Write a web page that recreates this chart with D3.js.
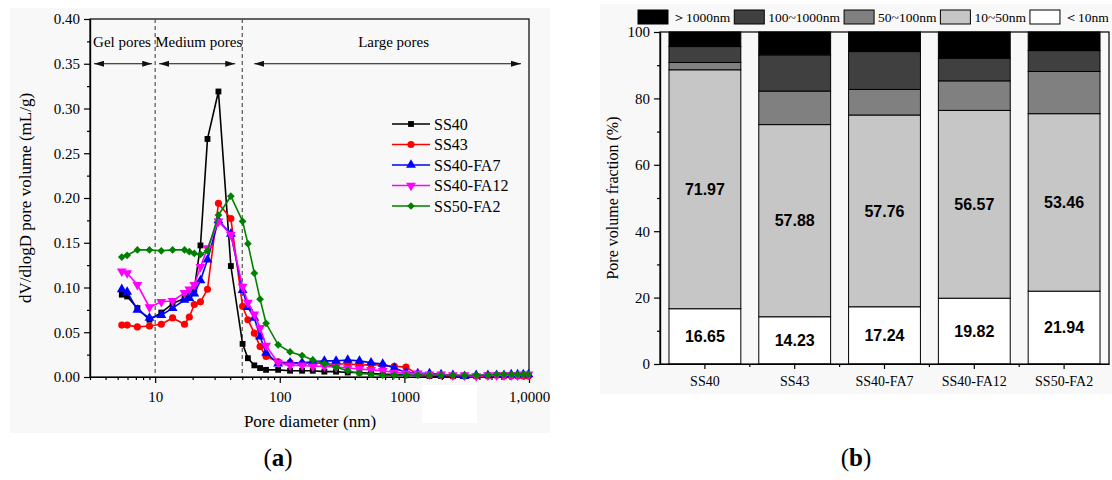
<!DOCTYPE html>
<html>
<head>
<meta charset="utf-8">
<script src="https://cdn.jsdelivr.net/npm/d3@7"></script>
<style>
  body { margin: 0; background: #ffffff; }
  svg { display: block; }
</style>
</head>
<body>
<svg id="chart" width="1112" height="480"></svg>
<script>
// ---------- (a) pore size distribution ----------
const diameters = [5.4, 5.96, 7.2, 9.0, 11.2, 13.8, 17.2, 18.8, 20.6, 23.1, 26.3, 32.2, 40.5,
  50.3, 55.5, 62.5, 69.5, 77.6, 97, 121, 151, 184, 228, 283, 351, 436, 540, 670, 830, 1030,
  1280, 1590, 1970, 2450, 3040, 3770, 4680, 5500, 6300, 7200, 8100, 9000, 9900];

const ss40 = [0.092, 0.090, 0.077, 0.064, 0.072, 0.082, 0.088, 0.092, 0.098, 0.147, 0.266, 0.319, 0.124,
  0.037, 0.021, 0.013, 0.010, 0.008, 0.008, 0.007, 0.007, 0.007, 0.006, 0.006, 0.005, 0.005, 0.004, 0.003, 0.003, 0.002,
  0.002, 0.001, 0.001, 0.001, 0.001, 0.001, 0.002, 0.002, 0.002, 0.002, 0.002, 0.002, 0.002];
const ss43 = [0.058, 0.058, 0.056, 0.057, 0.059, 0.066, 0.059, 0.067, 0.081, 0.084, 0.098, 0.194, 0.177,
  0.079, 0.064, 0.049, 0.034, 0.023, 0.017, 0.016, 0.015, 0.016, 0.015, 0.014, 0.015, 0.013, 0.014, 0.013, 0.012, 0.011,
  0.003, 0.002, 0.002, 0.001, 0.001, 0.001, 0.001, 0.002, 0.001, 0.001, 0.001, 0.001, 0.001];
const ss40fa7 = [0.098, 0.095, 0.075, 0.066, 0.069, 0.077, 0.086, 0.088, 0.093, 0.108, 0.131, 0.175, 0.160,
  0.097, 0.078, 0.066, 0.045, 0.027, 0.015, 0.016, 0.016, 0.017, 0.018, 0.018, 0.019, 0.018, 0.016, 0.0145, 0.010, 0.005,
  0.004, 0.004, 0.003, 0.002, 0.001, 0.002, 0.002, 0.002, 0.002, 0.003, 0.003, 0.003, 0.003];
const ss40fa12 = [0.118, 0.116, 0.103, 0.078, 0.084, 0.085, 0.094, 0.098, 0.103, 0.123, 0.144, 0.174, 0.159,
  0.101, 0.083, 0.070, 0.055, 0.035, 0.016, 0.013, 0.013, 0.012, 0.012, 0.011, 0.010, 0.009, 0.008, 0.007, 0.005, 0.004,
  0.004, 0.003, 0.003, 0.002, 0.002, 0.001, 0.002, 0.002, 0.002, 0.002, 0.002, 0.003, 0.003];
const ss50fa2 = [0.134, 0.136, 0.142, 0.142, 0.141, 0.142, 0.142, 0.140, 0.138, 0.137, 0.141, 0.181, 0.202,
  0.174, 0.149, 0.116, 0.087, 0.060, 0.036, 0.028, 0.024, 0.019, 0.015, 0.011, 0.007, 0.004, 0.003, 0.002, 0.002, 0.002,
  0.002, 0.002, 0.002, 0.002, 0.002, 0.002, 0.002, 0.003, 0.003, 0.003, 0.003, 0.003, 0.003];

const seriesNames = ["SS40", "SS43", "SS40-FA7", "SS40-FA12", "SS50-FA2"];
const seriesValues = [ss40, ss43, ss40fa7, ss40fa12, ss50fa2];
const seriesColors = ["#000000", "#ff0000", "#0000ff", "#ff00ff", "#008000"];
const seriesMarkers = ["square", "circle", "triangleUp", "triangleDown", "diamond"];

const yTicksA = [0, 0.05, 0.10, 0.15, 0.20, 0.25, 0.30, 0.35, 0.40];
const xMajorA = [10, 100, 1000, 10000];
const xTickLabelsA = ["10", "100", "1000", "1,0000"];
const zoneBounds = [10, 50];
const zoneNames = ["Gel pores", "Medium pores", "Large pores"];

// ---------- (b) pore volume fractions ----------
const samples = ["SS40", "SS43", "SS40-FA7", "SS40-FA12", "SS50-FA2"];
const below10 = [16.65, 14.23, 17.24, 19.82, 21.94];
const from10to50 = [71.97, 57.88, 57.76, 56.57, 53.46];
const from50to100 = [2.2, 10.1, 7.7, 8.9, 12.7];
const from100to1000 = [4.8, 10.9, 11.4, 6.8, 6.3];
const above1000 = [4.38, 6.89, 5.9, 7.91, 5.6];
const rangeKeys = ["r0", "r1", "r2", "r3", "r4"]; // bottom to top
const rangeLabels = ["＜10nm", "10~50nm", "50~100nm", "100~1000nm", "＞1000nm"];
const rangeFills = ["#ffffff", "#c6c6c6", "#808080", "#404040", "#000000"];
const yTicksB = [0, 20, 40, 60, 80, 100];

const SERIF = "'Liberation Serif', 'Times New Roman', serif";
const SANS = "'Liberation Sans', Arial, sans-serif";

const svg = d3.select("#chart");

// panel backgrounds
svg.append("rect").attr("x", 10).attr("y", 8).attr("width", 540).attr("height", 425).attr("fill", "#f8f8f8");
svg.append("rect").attr("x", 600).attr("y", 4).attr("width", 512).attr("height", 390).attr("fill", "#f8f8f8");

// ================= chart (a) =================
const plotA = { left: 90, right: 529, top: 19, bottom: 377 };
const xA = d3.scaleLog().domain([3, 10000]).range([plotA.left, plotA.right]);
const yA = d3.scaleLinear().domain([0, 0.4]).range([plotA.bottom, plotA.top]);
const gA = svg.append("g");

function styleAxis(g, size) {
  g.attr("font-family", SERIF).attr("font-size", size);
  g.selectAll("path.domain").attr("stroke", "#000").attr("stroke-width", 1.2);
  g.selectAll(".tick line").attr("stroke", "#000").attr("stroke-width", 1.2);
  g.selectAll(".tick text").attr("fill", "#000");
}

// x axis (log): major and minor ticks
const xMinorA = [];
[1, 10, 100, 1000].forEach(dec => { for (let k = 2; k <= 9; k++) { const v = k * dec; if (v >= 3 && v < 10000 && v % (dec * 10) !== 0) xMinorA.push(v); } });
gA.append("g").attr("transform", `translate(0,${plotA.bottom})`)
  .call(d3.axisBottom(xA).tickValues(xMinorA).tickFormat("").tickSizeInner(3).tickSizeOuter(0))
  .call(g => styleAxis(g, 15));
gA.append("g").attr("transform", `translate(0,${plotA.bottom})`)
  .call(d3.axisBottom(xA).tickValues(xMajorA).tickFormat((d, i) => xTickLabelsA[i]).tickSizeInner(6).tickSizeOuter(0).tickPadding(8))
  .call(g => styleAxis(g, 15));

// y axis
const yMinorA = yTicksA.slice(0, -1).map(v => v + 0.025);
gA.append("g").attr("transform", `translate(${plotA.left},0)`)
  .call(d3.axisLeft(yA).tickValues(yMinorA).tickFormat("").tickSizeInner(3).tickSizeOuter(0))
  .call(g => styleAxis(g, 15));
gA.append("g").attr("transform", `translate(${plotA.left},0)`)
  .call(d3.axisLeft(yA).tickValues(yTicksA).tickFormat(d3.format(".2f")).tickSizeInner(6).tickSizeOuter(0).tickPadding(4))
  .call(g => styleAxis(g, 15));

// frame
gA.append("rect").attr("x", plotA.left).attr("y", plotA.top)
  .attr("width", plotA.right - plotA.left).attr("height", plotA.bottom - plotA.top)
  .attr("fill", "none").attr("stroke", "#000").attr("stroke-width", 1.2);

// pore class boundaries
gA.selectAll("line.bound").data(zoneBounds).join("line").attr("class", "bound")
  .attr("x1", d => xA(d)).attr("x2", d => xA(d)).attr("y1", plotA.top).attr("y2", plotA.bottom)
  .attr("stroke", "#555").attr("stroke-width", 1.2).attr("stroke-dasharray", "4,3");

// arrow heads
const defs = svg.append("defs");
["start", "end"].forEach(k => {
  defs.append("marker").attr("id", "arr-" + k).attr("viewBox", "0 0 10 6")
    .attr("refX", k === "end" ? 10 : 0).attr("refY", 3).attr("markerWidth", 10).attr("markerHeight", 6)
    .attr("markerUnits", "userSpaceOnUse").attr("orient", "auto")
    .append("path").attr("d", k === "end" ? "M0,0L10,3L0,6Z" : "M10,0L0,3L10,6Z").attr("fill", "#111");
});
const zoneEdges = [xA.domain()[0], zoneBounds[0], zoneBounds[1], xA.domain()[1]];
const arrowY = yA(0.35);
const zoneSpans = [[xA(3) + 4, xA(10) - 3], [xA(10) + 4, xA(50) - 7], [xA(50) + 12, xA(10000) - 8]];
zoneNames.forEach((name, i) => {
  const [a, b] = zoneSpans[i];
  gA.append("line").attr("x1", a).attr("x2", b).attr("y1", arrowY).attr("y2", arrowY)
    .attr("stroke", "#111").attr("stroke-width", 1)
    .attr("marker-start", "url(#arr-start)").attr("marker-end", "url(#arr-end)");
  const cx = i === 2 ? (xA(zoneEdges[i]) + xA(zoneEdges[i + 1])) / 2 + 8
                     : (xA(zoneEdges[i]) + xA(zoneEdges[i + 1])) / 2;
  gA.append("text").attr("x", i === 0 ? 122 : cx).attr("y", 47)
    .attr("text-anchor", "middle").attr("font-family", SERIF).attr("font-size", 15).attr("fill", "#000")
    .text(name);
});

// symbols
function symbolPath(kind, size) {
  const map = { square: d3.symbolSquare, circle: d3.symbolCircle, triangleUp: d3.symbolTriangle,
                triangleDown: d3.symbolTriangle, diamond: d3.symbolSquare };
  return d3.symbol().type(map[kind]).size(size)();
}
function symbolRotation(kind) {
  return kind === "triangleDown" ? 180 : kind === "diamond" ? 45 : 0;
}
const symbolSizes = { square: 34, circle: 40, triangleUp: 42, triangleDown: 42, diamond: 30 };

const lineA = d3.line().x(d => xA(d[0])).y(d => yA(d[1]));
seriesValues.forEach((vals, si) => {
  const pts = diameters.map((d, i) => [d, vals[i]]);
  const g = gA.append("g");
  g.append("path").datum(pts).attr("d", lineA).attr("fill", "none")
    .attr("stroke", seriesColors[si]).attr("stroke-width", 1.6);
  g.selectAll("path.pt").data(pts).join("path").attr("class", "pt")
    .attr("d", symbolPath(seriesMarkers[si], symbolSizes[seriesMarkers[si]]))
    .attr("transform", d => `translate(${xA(d[0])},${yA(d[1])}) rotate(${symbolRotation(seriesMarkers[si])})`)
    .attr("fill", seriesColors[si]);
});

// legend
const legA = gA.append("g");
seriesNames.forEach((name, i) => {
  const y = 124 + i * 20.5;
  legA.append("line").attr("x1", 392).attr("x2", 430).attr("y1", y).attr("y2", y)
    .attr("stroke", seriesColors[i]).attr("stroke-width", 1.6);
  legA.append("path").attr("d", symbolPath(seriesMarkers[i], symbolSizes[seriesMarkers[i]]))
    .attr("transform", `translate(411,${y}) rotate(${symbolRotation(seriesMarkers[i])})`)
    .attr("fill", seriesColors[i]);
  legA.append("text").attr("x", 434).attr("y", y + 5.5)
    .attr("font-family", SERIF).attr("font-size", 16).attr("fill", "#000").text(name);
});

// axis titles
gA.append("text").attr("transform", `translate(25,${(plotA.top + plotA.bottom) / 2}) rotate(-90)`)
  .attr("text-anchor", "middle").attr("dominant-baseline", "central")
  .attr("font-family", SERIF).attr("font-size", 17).attr("fill", "#000")
  .text("dV/dlogD pore volume (mL/g)");
gA.append("text").attr("x", 310).attr("y", 427).attr("text-anchor", "middle")
  .attr("font-family", SERIF).attr("font-size", 17).attr("fill", "#000").text("Pore diameter (nm)");

// blank patch below the axis
svg.append("rect").attr("x", 422).attr("y", 385).attr("width", 55).attr("height", 38).attr("fill", "#ffffff");

// ================= chart (b) =================
const plotB = { left: 660, right: 1109, top: 32, bottom: 364 };
const xB = d3.scaleBand().domain(samples).range([plotB.left, plotB.right]).paddingInner(0.2).paddingOuter(0.1);
const yB = d3.scaleLinear().domain([0, 100]).range([plotB.bottom, plotB.top]);
const gB = svg.append("g");

const tableB = samples.map((s, i) => ({
  sample: s, r0: below10[i], r1: from10to50[i], r2: from50to100[i], r3: from100to1000[i], r4: above1000[i]
}));
const stacked = d3.stack().keys(rangeKeys)(tableB);

stacked.forEach((layer, li) => {
  gB.append("g").selectAll("rect").data(layer).join("rect")
    .attr("x", d => xB(d.data.sample)).attr("width", xB.bandwidth())
    .attr("y", d => yB(d[1])).attr("height", d => yB(d[0]) - yB(d[1]))
    .attr("fill", rangeFills[li]).attr("stroke", "#000").attr("stroke-width", 1);
});

// value labels for the two lowest ranges
[0, 1].forEach(li => {
  gB.append("g").selectAll("text").data(stacked[li]).join("text")
    .attr("x", d => xB(d.data.sample) + xB.bandwidth() / 2)
    .attr("y", d => yB((d[0] + d[1]) / 2))
    .attr("dy", "0.36em").attr("text-anchor", "middle")
    .attr("font-family", SANS).attr("font-weight", "bold").attr("font-size", 16).attr("fill", "#000")
    .text(d => (d[1] - d[0]).toFixed(2));
});

// axes
const xMinorB = samples.slice(0, -1).map(s => xB(s) + xB.bandwidth() + xB.step() * xB.paddingInner() / 2);
gB.append("g").attr("transform", `translate(0,${plotB.bottom})`)
  .call(d3.axisBottom(xB).tickSizeInner(5).tickSizeOuter(0).tickPadding(7))
  .call(g => styleAxis(g, 14));
gB.append("g").selectAll("line").data(xMinorB).join("line")
  .attr("x1", d => d).attr("x2", d => d).attr("y1", plotB.bottom).attr("y2", plotB.bottom + 3)
  .attr("stroke", "#000").attr("stroke-width", 1.2);

const yMinorB = yTicksB.slice(0, -1).map(v => v + 10);
gB.append("g").attr("transform", `translate(${plotB.left},0)`)
  .call(d3.axisLeft(yB).tickValues(yMinorB).tickFormat("").tickSizeInner(3).tickSizeOuter(0))
  .call(g => styleAxis(g, 15));
gB.append("g").attr("transform", `translate(${plotB.left},0)`)
  .call(d3.axisLeft(yB).tickValues(yTicksB).tickFormat(d3.format("d")).tickSizeInner(6).tickSizeOuter(0).tickPadding(4))
  .call(g => styleAxis(g, 15));

gB.append("rect").attr("x", plotB.left).attr("y", plotB.top)
  .attr("width", plotB.right - plotB.left).attr("height", plotB.bottom - plotB.top)
  .attr("fill", "none").attr("stroke", "#000").attr("stroke-width", 1.2);

gB.append("text").attr("transform", `translate(612,${(plotB.top + plotB.bottom) / 2}) rotate(-90)`)
  .attr("text-anchor", "middle").attr("dominant-baseline", "central")
  .attr("font-family", SERIF).attr("font-size", 16).attr("fill", "#000")
  .text("Pore volume fraction (%)");

// legend across the top, from the largest range to the smallest
const legB = gB.append("g");
let lx = 638;
[4, 3, 2, 1, 0].forEach(k => {
  legB.append("rect").attr("x", lx).attr("y", 10).attr("width", 30).attr("height", 14)
    .attr("fill", rangeFills[k]).attr("stroke", "#000").attr("stroke-width", 1);
  const t = legB.append("text").attr("x", lx + 34).attr("y", 22)
    .attr("font-family", SERIF).attr("font-size", 13.5).attr("fill", "#000").text(rangeLabels[k]);
  lx = lx + 34 + t.node().getComputedTextLength() + 4;
});

// panel captions
function caption(x, letter) {
  const t = svg.append("text").attr("x", x).attr("y", 466).attr("text-anchor", "middle")
    .attr("font-family", SERIF).attr("font-size", 25).attr("fill", "#000");
  t.append("tspan").text("(");
  t.append("tspan").attr("font-weight", "bold").text(letter);
  t.append("tspan").text(")");
}
caption(278, "a");
caption(856, "b");
</script>
</body>
</html>
